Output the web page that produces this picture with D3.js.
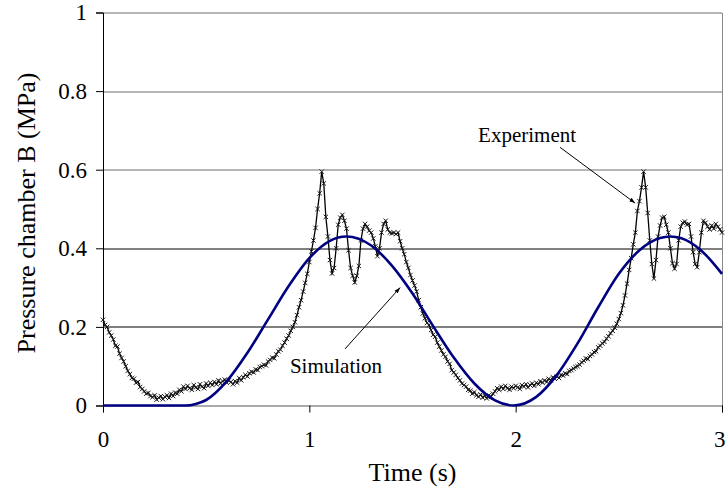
<!DOCTYPE html>
<html>
<head>
<meta charset="utf-8">
<script src="https://cdn.jsdelivr.net/npm/d3@7"></script>
<style>
  body { margin: 0; background: #fff; }
  svg text { font-family: "Liberation Serif", "Times New Roman", serif; fill: #000; }
</style>
</head>
<body>
<div id="wrapper"></div>
<script>
// data

const yTicks = [0, 0.2, 0.4, 0.6, 0.8, 1];
const xTicks = [0, 1, 2, 3];

// simulation (blue), time (s) / pressure (MPa)
const simTime = [0, 0.1, 0.2, 0.3, 0.4, 0.45, 0.5, 0.6, 0.7, 0.8, 0.9, 1.0, 1.1, 1.18, 1.3, 1.4, 1.5, 1.6, 1.7, 1.8, 1.9, 1.99,
  2.1, 2.2, 2.3, 2.4, 2.5, 2.6, 2.7, 2.75, 2.8, 2.9, 3.0];
const simPressure = [0, 0, 0, 0, 0, 0.004, 0.014, 0.062, 0.134, 0.219, 0.304, 0.375, 0.419, 0.43, 0.407, 0.356, 0.285, 0.202, 0.122, 0.056, 0.013, 0,
  0.022, 0.078, 0.158, 0.25, 0.335, 0.395, 0.426, 0.43, 0.426, 0.394, 0.335];

// experiment (black), sampled every 0.01 s from t = 0
const expStart = 0, expStep = 0.01;
const expPressure = [
  0.218, 0.205, 0.200, 0.186, 0.178, 0.168, 0.152, 0.150, 0.132, 0.121,
  0.112, 0.100, 0.088, 0.080, 0.070, 0.068, 0.058, 0.060, 0.047, 0.042,
  0.036, 0.030, 0.032, 0.024, 0.021, 0.026, 0.015, 0.020, 0.024, 0.016,
  0.022, 0.026, 0.019, 0.030, 0.024, 0.033, 0.030, 0.040, 0.036, 0.048,
  0.042, 0.050, 0.044, 0.040, 0.052, 0.046, 0.042, 0.054, 0.048, 0.044,
  0.056, 0.050, 0.058, 0.052, 0.060, 0.054, 0.064, 0.056, 0.062, 0.066,
  0.058, 0.064, 0.060, 0.054, 0.062, 0.058, 0.070, 0.064, 0.072, 0.078,
  0.074, 0.082, 0.086, 0.084, 0.092, 0.090, 0.098, 0.100, 0.104, 0.102,
  0.112, 0.116, 0.122, 0.120, 0.130, 0.138, 0.142, 0.152, 0.160, 0.170,
  0.178, 0.190, 0.200, 0.212, 0.230, 0.250, 0.268, 0.290, 0.312, 0.335,
  0.365, 0.392, 0.420, 0.452, 0.500, 0.540, 0.595, 0.565, 0.480, 0.430,
  0.370, 0.336, 0.350, 0.400, 0.460, 0.478, 0.485, 0.470, 0.450, 0.395,
  0.350, 0.330, 0.313, 0.330, 0.355, 0.420, 0.450, 0.462, 0.455, 0.445,
  0.440, 0.425, 0.405, 0.380, 0.400, 0.440, 0.462, 0.470, 0.448, 0.440,
  0.438, 0.440, 0.436, 0.440, 0.418, 0.400, 0.385, 0.365, 0.350, 0.332,
  0.318, 0.305, 0.290, 0.268, 0.250, 0.234, 0.222, 0.210, 0.205, 0.192,
  0.180, 0.175, 0.160, 0.150, 0.140, 0.130, 0.124, 0.112, 0.106, 0.090,
  0.084, 0.078, 0.070, 0.064, 0.056, 0.052, 0.048, 0.040, 0.038, 0.030,
  0.034, 0.026, 0.022, 0.028, 0.020, 0.024, 0.018, 0.026, 0.022, 0.030,
  0.036, 0.044, 0.040, 0.048, 0.042, 0.050, 0.044, 0.040, 0.048, 0.044,
  0.050, 0.046, 0.042, 0.052, 0.048, 0.054, 0.046, 0.052, 0.056, 0.050,
  0.058, 0.054, 0.062, 0.058, 0.064, 0.060, 0.068, 0.064, 0.072, 0.068,
  0.074, 0.070, 0.078, 0.076, 0.082, 0.080, 0.088, 0.090, 0.094, 0.098,
  0.100, 0.104, 0.110, 0.114, 0.120, 0.118, 0.126, 0.130, 0.136, 0.138,
  0.148, 0.152, 0.158, 0.162, 0.170, 0.176, 0.184, 0.190, 0.198, 0.208,
  0.220, 0.235, 0.255, 0.280, 0.310, 0.345, 0.375, 0.410, 0.440, 0.495,
  0.520, 0.555, 0.595, 0.555, 0.490, 0.420, 0.360, 0.323, 0.370, 0.430,
  0.458, 0.478, 0.480, 0.460, 0.440, 0.400, 0.362, 0.348, 0.360, 0.420,
  0.455, 0.465, 0.468, 0.460, 0.462, 0.430, 0.390, 0.360, 0.352, 0.390,
  0.440, 0.470, 0.465, 0.455, 0.448, 0.458, 0.450, 0.462, 0.455, 0.448,
  0.440
];

const annotations = [
  { text: "Experiment", tx: 1.818, ty: 0.67, from: [2.215, 0.657], to: [2.579, 0.515] },
  { text: "Simulation", tx: 0.906, ty: 0.083, from: [1.173, 0.144], to: [1.44, 0.30] }
];

// dimensions

let dimensions = {
  width: 726,
  height: 492,
  margin: { top: 12.5, right: 4, bottom: 86.5, left: 103 }
};
dimensions.boundedWidth = dimensions.width - dimensions.margin.left - dimensions.margin.right;
dimensions.boundedHeight = dimensions.height - dimensions.margin.top - dimensions.margin.bottom;

const wrapper = d3.select("#wrapper")
  .append("svg")
  .attr("width", dimensions.width)
  .attr("height", dimensions.height);

const bounds = wrapper.append("g")
  .attr("transform", `translate(${dimensions.margin.left},${dimensions.margin.top})`);

// scales

const xScale = d3.scaleLinear()
  .domain([0, 3])
  .range([0, dimensions.boundedWidth]);

const yScale = d3.scaleLinear()
  .domain([0, 1])
  .range([dimensions.boundedHeight, 0]);

// gridlines + frame

bounds.append("g")
  .selectAll("line")
  .data(yTicks.filter(d => d > 0))
  .join("line")
  .attr("x1", 0)
  .attr("x2", dimensions.boundedWidth)
  .attr("y1", d => Math.round(yScale(d)) + 0.5)
  .attr("y2", d => Math.round(yScale(d)) + 0.5)
  .attr("stroke", d => d <= 0.4 ? "#000" : "#6e6e6e")
  .attr("stroke-width", 1);

bounds.append("line")
  .attr("x1", Math.round(dimensions.boundedWidth) + 0.5)
  .attr("x2", Math.round(dimensions.boundedWidth) + 0.5)
  .attr("y1", Math.round(yScale(1)) + 0.5)
  .attr("y2", Math.round(yScale(0)) + 0.5)
  .attr("stroke", "#888");

// axes

const yAxisGenerator = d3.axisLeft(yScale)
  .tickValues(yTicks)
  .tickSize(7)
  .tickPadding(9)
  .tickFormat(d => d);

const xAxisGenerator = d3.axisBottom(xScale)
  .tickValues(xTicks)
  .tickSize(7)
  .tickPadding(18)
  .tickFormat(d => d);

const yAxis = bounds.append("g")
  .attr("class", "y-axis")
  .call(yAxisGenerator);

const xAxis = bounds.append("g")
  .attr("class", "x-axis")
  .attr("transform", `translate(0,${dimensions.boundedHeight})`)
  .call(xAxisGenerator);

xAxis.select(".domain").attr("stroke", "#555");

[yAxis, xAxis].forEach(axis => {
  axis.attr("font-family", "Liberation Serif").attr("font-size", null);
  axis.selectAll("text")
    .style("font-family", "'Liberation Serif', serif")
    .style("font-size", "23px")
    .attr("fill", "#000");
});

// last x label is pulled in so it stays on the page
xAxis.selectAll(".tick text")
  .filter(d => d === 3)
  .attr("text-anchor", "end")
  .attr("dx", 3);

bounds.append("text")
  .attr("x", dimensions.boundedWidth / 2)
  .attr("y", dimensions.boundedHeight + 75.5)
  .attr("text-anchor", "middle")
  .style("font-size", "26px")
  .text("Time (s)");

bounds.append("text")
  .attr("transform", `translate(${-dimensions.margin.left + 35},${dimensions.boundedHeight / 2 + 4}) rotate(-90)`)
  .attr("text-anchor", "middle")
  .style("font-size", "26px")
  .text("Pressure chamber B (MPa)");

// experiment line

const expData = expPressure.map((p, i) => ({ t: expStart + i * expStep, p: p }));

const lineGenerator = d3.line()
  .x(d => xScale(d.t))
  .y(d => yScale(d.p));

bounds.append("path")
  .datum(expData)
  .attr("d", lineGenerator)
  .attr("fill", "none")
  .attr("stroke", "#000")
  .attr("stroke-width", 1.3);

bounds.append("g")
  .selectAll("path")
  .data(expData)
  .join("path")
  .attr("transform", d => `translate(${xScale(d.t)},${yScale(d.p)})`)
  .attr("d", "M-2.2,-2.2L2.2,2.2M-2.2,2.2L2.2,-2.2")
  .attr("stroke", "#1a1a1a")
  .attr("stroke-width", 1);

// simulation line

const simData = simTime.map((t, i) => ({ t: t, p: simPressure[i] }));

bounds.append("path")
  .datum(simData)
  .attr("d", lineGenerator.curve(d3.curveMonotoneX))
  .attr("fill", "none")
  .attr("stroke", "#000080")
  .attr("stroke-width", 2.6);

// annotations

wrapper.append("defs").append("marker")
  .attr("id", "arrow")
  .attr("viewBox", "0 0 10 10")
  .attr("refX", 10)
  .attr("refY", 5)
  .attr("markerWidth", 6)
  .attr("markerHeight", 6)
  .attr("orient", "auto")
  .append("path")
  .attr("d", "M0,1.5L10,5L0,8.5z")
  .attr("fill", "#000");

annotations.forEach(a => {
  bounds.append("line")
    .attr("x1", xScale(a.from[0]))
    .attr("y1", yScale(a.from[1]))
    .attr("x2", xScale(a.to[0]))
    .attr("y2", yScale(a.to[1]))
    .attr("stroke", "#000")
    .attr("stroke-width", 1)
    .attr("marker-end", "url(#arrow)");

  bounds.append("text")
    .attr("x", xScale(a.tx))
    .attr("y", yScale(a.ty))
    .style("font-size", "21px")
    .text(a.text);
});
</script>
</body>
</html>
